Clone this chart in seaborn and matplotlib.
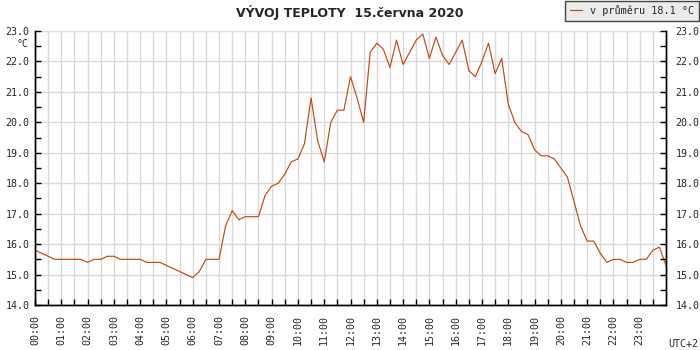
import numpy as np
import pandas as pd
import matplotlib
matplotlib.use("Agg")
import matplotlib.pyplot as plt
import seaborn as sns
from matplotlib.ticker import MultipleLocator, FormatStrFormatter, FixedLocator

# ---- data (15-minute readings, 00:00 .. 24:00) ----
minutes = np.arange(0, 24 * 60 + 1, 15)
temps = [
    15.8, 15.7, 15.6, 15.5,   # 00
    15.5, 15.5, 15.5, 15.5,   # 01
    15.4, 15.5, 15.5, 15.6,   # 02
    15.6, 15.5, 15.5, 15.5,   # 03
    15.5, 15.4, 15.4, 15.4,   # 04
    15.3, 15.2, 15.1, 15.0,   # 05
    14.9, 15.1, 15.5, 15.5,   # 06
    15.5, 16.6, 17.1, 16.8,   # 07
    16.9, 16.9, 16.9, 17.6,   # 08
    17.9, 18.0, 18.3, 18.7,   # 09
    18.8, 19.3, 20.8, 19.4,   # 10
    18.7, 20.0, 20.4, 20.4,   # 11
    21.5, 20.8, 20.0, 22.3,   # 12
    22.6, 22.4, 21.8, 22.7,   # 13
    21.9, 22.3, 22.7, 22.9,   # 14
    22.1, 22.8, 22.2, 21.9,   # 15
    22.3, 22.7, 21.7, 21.5,   # 16
    22.0, 22.6, 21.6, 22.1,   # 17
    20.6, 20.0, 19.7, 19.6,   # 18
    19.1, 18.9, 18.9, 18.8,   # 19
    18.5, 18.2, 17.4, 16.6,   # 20
    16.1, 16.1, 15.7, 15.4,   # 21
    15.5, 15.5, 15.4, 15.4,   # 22
    15.5, 15.5, 15.8, 15.9,   # 23
    15.3,                     # 24
]
hour_labels = [f"{h:02d}:00" for h in range(24)]
title = "VÝVOJ TEPLOTY  15.června 2020"
legend_label = "v průměru 18.1 °C"
unit_label = "°C"
tz_label = "UTC+2"

df = pd.DataFrame({"hour": minutes / 60.0, "temp": temps})

sns.set_style("white")
plt.rcParams["font.family"] = ["DejaVu Sans"]
mono = "DejaVu Sans Mono"
line_color = "#c04a10"
grid_color = "#d9d9d9"
fs = 7.2

fig = plt.figure(figsize=(7, 3.5), dpi=100)
ax = fig.add_axes([35 / 700, 45 / 350, 631 / 700, 274 / 350])

sns.lineplot(data=df, x="hour", y="temp", ax=ax, color=line_color,
             linewidth=0.85, label=legend_label)

ax.set_xlim(0, 24)
ax.set_ylim(14, 23)
ax.set_xlabel("")
ax.set_ylabel("")

ax.xaxis.set_major_locator(FixedLocator(np.arange(0, 24)))
ax.set_xticklabels(hour_labels, rotation=90, family=mono, fontsize=fs)
ax.xaxis.set_minor_locator(FixedLocator(np.arange(0.5, 24, 1)))
ax.yaxis.set_major_locator(MultipleLocator(1.0))
ax.yaxis.set_minor_locator(MultipleLocator(0.5))
ax.yaxis.set_major_formatter(FormatStrFormatter("%.1f"))

ax.grid(which="both", axis="x", color=grid_color, linewidth=1.0)
ax.grid(which="major", axis="y", color=grid_color, linewidth=1.0)
ax.set_axisbelow(True)

ax.tick_params(axis="x", which="both", direction="in", length=4, width=1,
               color="black", bottom=True, top=False, pad=7.5)
ax.tick_params(axis="y", which="both", direction="in", length=4, width=1,
               color="black", left=True, right=False,
               labelleft=True, labelright=False, labelsize=fs)
ax.tick_params(axis="y", which="major", pad=4)
for lab in ax.get_yticklabels():
    lab.set_family(mono)

# right-hand temperature scale
ax2 = ax.twinx()
ax2.set_ylim(14, 23)
ax2.yaxis.set_major_locator(MultipleLocator(1.0))
ax2.yaxis.set_minor_locator(MultipleLocator(0.5))
ax2.yaxis.set_major_formatter(FormatStrFormatter("%.1f"))
ax2.tick_params(axis="y", which="both", direction="in", length=4, width=1,
                color="black", labelsize=fs)
ax2.tick_params(axis="y", which="major", pad=6.8)
for lab in ax2.get_yticklabels():
    lab.set_family(mono)
ax2.grid(False)
ax2.set_ylabel("")

for a in (ax, ax2):
    for side in ["left", "right", "bottom"]:
        a.spines[side].set_color("black")
        a.spines[side].set_linewidth(1.0)
    a.spines["top"].set_visible(False)

leg = ax.legend(loc="upper right", bbox_to_anchor=(699 / 700, 349.5 / 350),
                bbox_transform=fig.transFigure, borderaxespad=0,
                frameon=True, fancybox=False, framealpha=1,
                edgecolor="#444444", facecolor="#ebebeb",
                prop={"family": mono, "size": 7.3},
                handlelength=1.2, handletextpad=0.8, borderpad=0.45)
leg.get_frame().set_linewidth(1.0)
leg.remove()
ax2.add_artist(leg)

fig.text(0.5, 1 - 12 / 350, title, ha="center", va="center",
         fontweight="bold", fontsize=9)
fig.text(22 / 700, 1 - 44 / 350, unit_label, ha="center", va="center",
         family=mono, fontsize=fs)
fig.text(683 / 700, 1 - 344 / 350, tz_label, ha="center", va="center",
         family=mono, fontsize=fs)

fig.savefig("out.png", dpi=100)
